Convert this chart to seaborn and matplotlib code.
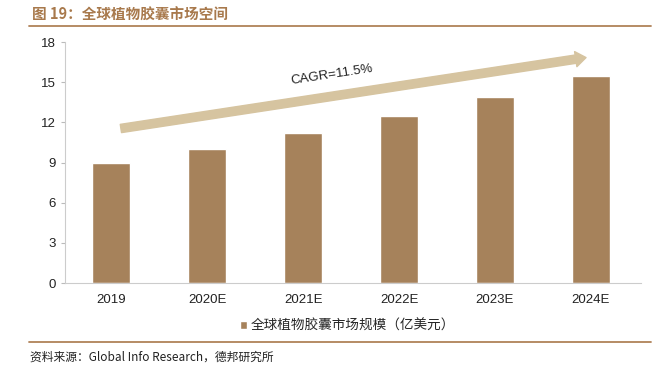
import matplotlib
matplotlib.use("Agg")
import matplotlib.pyplot as plt
import seaborn as sns
import pandas as pd

# dados do gráfico
anos = ["2019", "2020E", "2021E", "2022E", "2023E", "2024E"]
mercado = [9.0, 10.0, 11.2, 12.5, 13.9, 15.5]
yticks = [0, 3, 6, 9, 12, 15, 18]
titulo = "图 19：全球植物胶囊市场空间"
legenda = "全球植物胶囊市场规模（亿美元）"
fonte = "资料来源：Global Info Research，德邦研究所"
cagr = "CAGR=11.5%"

sns.set_style("white")
plt.rcParams["font.family"] = ["Liberation Sans", "Noto Sans CJK SC", "DejaVu Sans"]

cor_barra = "#a6825b"
cor_seta = "#d6c4a0"
cor_titulo = "#a8794c"

df = pd.DataFrame({"ano": anos, "valor": mercado})

fig = plt.figure(figsize=(6.66, 3.7), dpi=100)
ax = fig.add_axes([0.098, 0.235, 0.864, 0.651])
sns.barplot(data=df, x="ano", y="valor", color=cor_barra, width=0.4,
            saturation=1, ax=ax, label=legenda)

ax.set_ylim(0, 18)
ax.set_yticks(yticks)
ax.set_xlim(-0.48, 5.52)
ax.set_xlabel("")
ax.set_ylabel("")
ax.tick_params(axis="both", labelsize=9.5, colors="#222222")
ax.tick_params(axis="y", length=3, color="#bbbbbb", direction="out", left=True)
ax.tick_params(axis="x", length=0, pad=8)
for lado in ["top", "right"]:
    ax.spines[lado].set_visible(False)
ax.spines["left"].set_color("#cccccc")
ax.spines["bottom"].set_color("#cccccc")

# seta CAGR
ax.annotate("", xy=(4.95, 16.85), xytext=(0.1, 11.55),
            arrowprops=dict(arrowstyle="simple,head_width=1.1,head_length=0.75,tail_width=0.6",
                            color=cor_seta, mutation_scale=10, shrinkA=0, shrinkB=0))
ax.text(2.3, 15.55, cagr, rotation=8.6, ha="center", va="center", fontsize=9.5, color="#222222")

leg = ax.legend(loc="center", bbox_to_anchor=(0.49, -0.176), frameon=False,
                fontsize=9.8, handlelength=0.55, handleheight=0.55, handletextpad=0.25)
for t in leg.get_texts():
    t.set_family(["Noto Sans CJK SC", "DejaVu Sans"])

fig.text(0.048, 0.96, titulo, fontsize=10.5, fontweight="bold", color=cor_titulo,
         va="center", family=["Noto Sans CJK SC", "DejaVu Sans"])
fig.add_artist(plt.Line2D([0.044, 0.978], [0.93, 0.93], color="#b08258", lw=1.3))
fig.add_artist(plt.Line2D([0.044, 0.978], [0.075, 0.075], color="#b08258", lw=1.3))
fig.text(0.045, 0.035, fonte, fontsize=8.5, color="#222222", va="center",
         family=["Noto Sans CJK SC", "DejaVu Sans"])

fig.savefig("out.png", dpi=100)
